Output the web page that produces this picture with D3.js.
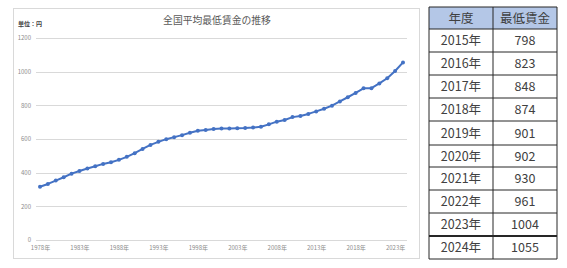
<!DOCTYPE html>
<html><head><meta charset="utf-8">
<script src="https://cdn.jsdelivr.net/npm/d3@7"></script>
<style>body{margin:0;background:#fff;}svg{display:block;}</style>
</head><body>
<svg id="c" width="567" height="268"></svg>
<script>
const years = d3.range(1978, 2025);
const wages = [316,333,353,373,394,410,425,438,452,462,476,494,516,541,565,583,599,611,623,637,649,654,659,663,663,664,665,668,673,687,703,713,730,737,749,764,780,798,823,848,874,901,902,930,961,1004,1055];
const yTicks = [0,200,400,600,800,1000,1200];
const xTickYears = [1978,1983,1988,1993,1998,2003,2008,2013,2018,2023];
const tableHeader = ["年度","最低賃金"];
const tableYears = ["2015年","2016年","2017年","2018年","2019年","2020年","2021年","2022年","2023年","2024年"];
const tableWages = [798,823,848,874,901,902,930,961,1004,1055];

const svg = d3.select("#c");
const font = "'Noto Sans CJK JP', 'Noto Sans', sans-serif";

// chart frame
svg.append("rect").attr("x",13.5).attr("y",8.5).attr("width",406).attr("height",250)
  .attr("fill","#fff").attr("stroke","#d9d9d9").attr("stroke-width",1);

const x = d3.scaleLinear().domain([1978,2024]).range([40,403]);
const y = d3.scaleLinear().domain([0,1200]).range([240,38]);

// gridlines
svg.append("g").selectAll("line").data(yTicks).join("line")
  .attr("x1",36).attr("x2",407)
  .attr("y1",d=>Math.round(y(d))+0.5).attr("y2",d=>Math.round(y(d))+0.5)
  .attr("stroke","#d9d9d9").attr("stroke-width",1);

// y axis labels
const yAxis = d3.axisLeft(y).tickValues(yTicks).tickSize(0).tickPadding(0).tickFormat(d3.format("d"));
const ga = svg.append("g").attr("transform","translate(31,0)").call(yAxis);
ga.select(".domain").remove();
ga.selectAll("text").attr("font-family",font).attr("font-size",6).attr("fill","#8c8c8c");

// x axis labels
const xAxis = d3.axisBottom(x).tickValues(xTickYears).tickSize(0).tickPadding(0).tickFormat(d=>d+"年");
const gx = svg.append("g").attr("transform","translate(0,246)").call(xAxis);
gx.select(".domain").remove();
gx.selectAll("text").attr("font-family",font).attr("font-size",6).attr("fill","#8c8c8c");

// title
svg.append("text").attr("x",217).attr("y",23.5).attr("text-anchor","middle")
  .attr("font-family",font).attr("font-size",9.8).attr("fill","#595959").text("全国平均最低賃金の推移");
svg.append("text").attr("x",18).attr("y",25.5)
  .attr("font-family",font).attr("font-size",6).attr("font-weight","bold").attr("fill","#404040").text("単位：円");

// line
const data = years.map((yr,i)=>({yr, v:wages[i]}));
svg.append("path").datum(data)
  .attr("d", d3.line().x(d=>x(d.yr)).y(d=>y(d.v)))
  .attr("fill","none").attr("stroke","#4472c4").attr("stroke-width",2).attr("stroke-linejoin","round");
svg.append("g").selectAll("circle").data(data).join("circle")
  .attr("cx",d=>x(d.yr)).attr("cy",d=>y(d.v)).attr("r",2).attr("fill","#4472c4");

// table
const tx0 = 429, tx1 = 493, tx2 = 557;
const rowEdges = [7,29,52,75,98,121,145,167,190,213,236,259];
const tg = svg.append("g");
tg.append("rect").attr("x",tx0).attr("y",rowEdges[0]).attr("width",tx2-tx0).attr("height",rowEdges[1]-rowEdges[0]).attr("fill","#b4c7e7");
tg.selectAll("line.h").data(rowEdges).join("line").attr("class","h")
  .attr("x1",tx0).attr("x2",tx2).attr("y1",d=>d).attr("y2",d=>d)
  .attr("stroke","#262626").attr("stroke-width",(d,i)=> i===10 ? 2 : 1);
tg.selectAll("line.v").data([tx0,tx1,tx2]).join("line").attr("class","v")
  .attr("x1",d=>d).attr("x2",d=>d).attr("y1",rowEdges[0]).attr("y2",rowEdges[11])
  .attr("stroke","#262626").attr("stroke-width",1);

const cx1 = (tx0+tx1)/2, cx2 = (tx1+tx2)/2;
const rowsText = [[tableHeader[0],tableHeader[1]]].concat(tableYears.map((t,i)=>[t,String(tableWages[i])]));
rowsText.forEach((r,i)=>{
  const cy = (rowEdges[i]+rowEdges[i+1])/2 + 4.5;
  tg.append("text").attr("x",cx1).attr("y",cy).attr("text-anchor","middle")
    .attr("font-family",font).attr("font-size",12.5).attr("fill","#404040").text(r[0]);
  tg.append("text").attr("x",cx2).attr("y",cy).attr("text-anchor","middle")
    .attr("font-family",font).attr("font-size",12.5).attr("fill","#404040").text(r[1]);
});
</script>
</body></html>
